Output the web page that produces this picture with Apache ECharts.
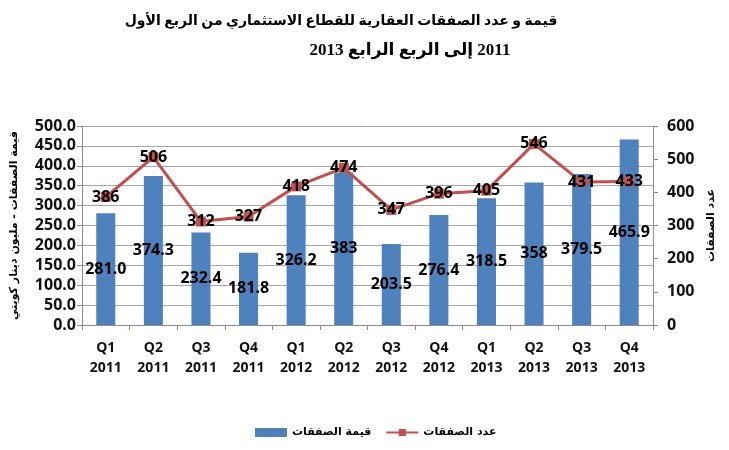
<!DOCTYPE html>
<html>
<head>
<meta charset="utf-8">
<script src="https://cdn.jsdelivr.net/npm/echarts@6/dist/echarts.min.js"></script>
<style>
  html, body { margin: 0; padding: 0; background: #fff; }
  #main { width: 729px; height: 450px; }
</style>
</head>
<body>
<div id="main"></div>
<script>
// values
var quarters = ["Q1\n2011", "Q2\n2011", "Q3\n2011", "Q4\n2011",
  "Q1\n2012", "Q2\n2012", "Q3\n2012", "Q4\n2012",
  "Q1\n2013", "Q2\n2013", "Q3\n2013", "Q4\n2013"];
// قيمة الصفقات (مليون دينار)
var dealValue = [281.0, 374.3, 232.4, 181.8, 326.2, 383, 203.5, 276.4, 318.5, 358, 379.5, 465.9];
var dealValueLabels = ["281.0", "374.3", "232.4", "181.8", "326.2", "383", "203.5", "276.4", "318.5", "358", "379.5", "465.9"];
// عدد الصفقات
var dealCount = [386, 506, 312, 327, 418, 474, 347, 396, 405, 546, 431, 433];

var RLE = "\u202B", PDF = "\u202C";
var titleLine1 = "قيمة و عدد الصفقات العقارية للقطاع الاستثماري من الربع الأول";
var titleLine2 = "2011 إلى الربع الرابع 2013";
var leftName = "قيمة الصفقات - مليون دينار كويتي";
var rightName = "عدد الصفقات";

var numFont = "'Open Sans', 'DejaVu Sans', sans-serif";
var gridColor = "#a6a6a6";
var axisColor = "#8c8c8c";

var myChart = echarts.init(document.getElementById("main"));
var option = {
  animation: false,
  title: [
    {
      text: RLE + titleLine1 + PDF,
      left: 336, top: 9, textAlign: "center",
      textStyle: { fontSize: 14, fontWeight: "bold", color: "#000", fontFamily: "'Liberation Serif', 'DejaVu Sans', serif" }
    },
    {
      text: RLE + titleLine2 + PDF,
      left: 405, top: 37, textAlign: "center",
      textStyle: { fontSize: 17, fontWeight: "bold", color: "#000", fontFamily: "'Liberation Serif', 'DejaVu Sans', serif" }
    }
  ],
  legend: {
    left: 250,
    top: 422,
    itemGap: 14,
    itemWidth: 32,
    itemHeight: 9,
    textStyle: { fontSize: 11, fontWeight: "bold", color: "#000", fontFamily: "'DejaVu Sans', sans-serif" },
    data: [
      { name: "قيمة الصفقات", icon: "rect" },
      { name: "عدد الصفقات" }
    ]
  },
  grid: { left: 82, right: 76, top: 126, bottom: 125 },
  xAxis: {
    type: "category",
    data: quarters,
    axisLine: { lineStyle: { color: axisColor } },
    axisTick: { show: true, length: 5, lineStyle: { color: axisColor } },
    axisLabel: {
      color: "#111", fontSize: 14, fontWeight: "bold", fontFamily: numFont,
      margin: 13, lineHeight: 20, interval: 0
    }
  },
  yAxis: [
    {
      type: "value",
      min: 0, max: 500, interval: 50,
      name: RLE + leftName + PDF,
      nameLocation: "middle",
      nameRotate: 90,
      nameGap: 62,
      nameTextStyle: { fontSize: 11, fontWeight: "bold", color: "#000", fontFamily: "'DejaVu Sans', sans-serif" },
      axisLine: { show: true, lineStyle: { color: axisColor } },
      axisTick: { show: true, length: 5, lineStyle: { color: axisColor } },
      splitLine: { show: true, lineStyle: { color: gridColor, width: 1 } },
      axisLabel: {
        color: "#111", fontSize: 16, fontWeight: "bold", fontFamily: numFont, margin: 6,
        formatter: function (v) { return v.toFixed(1); }
      }
    },
    {
      type: "value",
      min: 0, max: 600, interval: 100,
      name: RLE + rightName + PDF,
      nameLocation: "middle",
      nameRotate: 90,
      nameGap: 44,
      nameTextStyle: { fontSize: 11, fontWeight: "bold", color: "#000", fontFamily: "'DejaVu Sans', sans-serif" },
      axisLine: { show: true, lineStyle: { color: axisColor } },
      axisTick: { show: true, length: 5, lineStyle: { color: axisColor } },
      splitLine: { show: false },
      axisLabel: { color: "#111", fontSize: 16, fontWeight: "bold", fontFamily: numFont, margin: 14 }
    }
  ],
  series: [
    {
      name: "قيمة الصفقات",
      type: "bar",
      yAxisIndex: 0,
      barWidth: "40%",
      data: dealValue,
      itemStyle: { color: "#4f81bd" },
      label: {
        show: true,
        position: "inside",
        color: "#000",
        fontSize: 16,
        fontWeight: "bold",
        fontFamily: numFont,
        formatter: function (p) { return dealValueLabels[p.dataIndex]; }
      },
      z: 2
    },
    {
      name: "عدد الصفقات",
      type: "line",
      yAxisIndex: 1,
      data: dealCount,
      symbol: "rect",
      symbolSize: 10,
      lineStyle: { color: "#c0504d", width: 3 },
      itemStyle: { color: "#c0504d" },
      label: {
        show: true,
        position: "inside",
        color: "#000",
        fontSize: 16,
        fontWeight: "bold",
        fontFamily: numFont
      },
      z: 3
    }
  ]
};
myChart.setOption(option);
window.addEventListener("resize", function () {
  myChart.resize();
});
</script>
</body>
</html>
